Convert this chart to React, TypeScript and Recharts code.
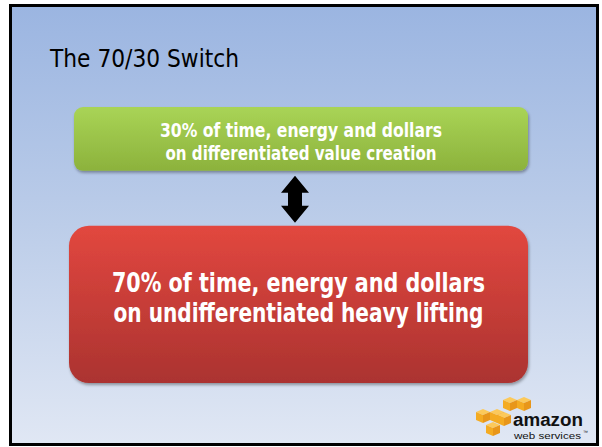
import React from 'react';
import { BarChart, Bar, XAxis, YAxis, LabelList, Customized } from 'recharts';

// ---- data ----
const categories = ['Effort'];
const differentiatedValues = [30]; // % of time, energy and dollars on differentiated value creation
const undifferentiatedValues = [70]; // % on undifferentiated heavy lifting
const titleText = 'The 70/30 Switch';
const valueSuffix = '% of time, energy and dollars';
const differentiatedTail = 'on differentiated value creation';
const undifferentiatedTail = 'on undifferentiated heavy lifting';
const logoWords = ['amazon', 'web services'];

const data = categories.map((c, i) => ({
  name: c,
  heavy: undifferentiatedValues[i],
  value: differentiatedValues[i],
}));

const FONT = '"DejaVu Sans Condensed", "DejaVu Sans", Verdana, sans-serif';
const RED_TOP_INSET = 36;
const RED_LEFT_EXTRA = 5;
const GREEN_BOTTOM_INSET = 19;

const RedShape = (props: any) => {
  const { x, y, width, height } = props;
  const top = y + RED_TOP_INSET;
  const h = height - RED_TOP_INSET;
  return (
    <g>
      <defs>
        <linearGradient id="redGrad" x1="0" y1="0" x2="0" y2="1">
          <stop offset="0%" stopColor="#e2473f" />
          <stop offset="100%" stopColor="#ab3330" />
        </linearGradient>
        <filter id="boxShadow" x="-5%" y="-5%" width="110%" height="120%">
          <feDropShadow dx="1" dy="2" stdDeviation="1.5" floodColor="#000" floodOpacity="0.35" />
        </filter>
      </defs>
      <rect
        x={x - RED_LEFT_EXTRA}
        y={top}
        width={width + RED_LEFT_EXTRA}
        height={h}
        rx={20}
        ry={20}
        fill="url(#redGrad)"
        filter="url(#boxShadow)"
      />
    </g>
  );
};

const GreenShape = (props: any) => {
  const { x, y, width, height } = props;
  const h = height - GREEN_BOTTOM_INSET;
  const cx = x + width / 2 - 6;
  const ty = y + h + 5;
  const by = y + height + RED_TOP_INSET - 3;
  const hw = 14;
  const hh = 17;
  const sw = 7;
  const pts = [
    [cx, ty], [cx + hw, ty + hh], [cx + sw, ty + hh], [cx + sw, by - hh], [cx + hw, by - hh],
    [cx, by], [cx - hw, by - hh], [cx - sw, by - hh], [cx - sw, ty + hh], [cx - hw, ty + hh],
  ].map((p) => p.join(',')).join(' ');
  return (
    <g>
      <defs>
        <linearGradient id="greenGrad" x1="0" y1="0" x2="0" y2="1">
          <stop offset="0%" stopColor="#a9d456" />
          <stop offset="100%" stopColor="#8cb23c" />
        </linearGradient>
      </defs>
      <rect x={x} y={y} width={width} height={h} rx={9} ry={9} fill="url(#greenGrad)" filter="url(#boxShadow)" />
      <polygon points={pts} fill="#000" />
    </g>
  );
};

const GreenLabel = (props: any) => {
  const { viewBox, value } = props;
  const cx = viewBox.x + viewBox.width / 2;
  const top = viewBox.y;
  return (
    <g fontFamily={FONT} fontWeight="bold" fill="#fff" textAnchor="middle">
      <text x={cx} y={top + 30} fontSize={20} textLength={282} lengthAdjust="spacingAndGlyphs">
        {`${value}${valueSuffix}`}
      </text>
      <text x={cx} y={top + 53} fontSize={20} textLength={271} lengthAdjust="spacingAndGlyphs">
        {differentiatedTail}
      </text>
    </g>
  );
};

const RedLabel = (props: any) => {
  const { viewBox, value } = props;
  const cx = viewBox.x - RED_LEFT_EXTRA + (viewBox.width + RED_LEFT_EXTRA) / 2;
  const top = viewBox.y + RED_TOP_INSET;
  return (
    <g fontFamily={FONT} fontWeight="bold" fill="#fff" textAnchor="middle">
      <text x={cx} y={top + 66} fontSize={27} textLength={373} lengthAdjust="spacingAndGlyphs">
        {`${value}${valueSuffix}`}
      </text>
      <text x={cx} y={top + 96} fontSize={27} textLength={370} lengthAdjust="spacingAndGlyphs">
        {undifferentiatedTail}
      </text>
    </g>
  );
};

const Cube = ({ cx, cy }: { cx: number; cy: number }) => (
  <g>
    <polygon points={`${cx - 7},${cy - 3} ${cx},${cy - 6} ${cx + 7},${cy - 3} ${cx},${cy}`} fill="#fcc95a" />
    <polygon points={`${cx - 7},${cy - 3} ${cx},${cy} ${cx},${cy + 8} ${cx - 7},${cy + 5}`} fill="#f4ab22" />
    <polygon points={`${cx},${cy} ${cx + 7},${cy - 3} ${cx + 7},${cy + 5} ${cx},${cy + 8}`} fill="#e8961a" />
  </g>
);

const Decor = () => (
  <g>
    <text x={50} y={67} fontFamily={FONT} fontSize={25} fill="#000" textLength={189} lengthAdjust="spacingAndGlyphs">
      {titleText}
    </text>
    <g>
      <Cube cx={510} cy={403} />
      <Cube cx={524} cy={403} />
      <Cube cx={483} cy={415} />
      <Cube cx={497} cy={415} />
      <Cube cx={504} cy={418} />
      <Cube cx={493} cy={428} />
      <text x={513} y={426} fontFamily="'Liberation Sans', Arial, sans-serif" fontWeight="bold" fontSize={18} fill="#111" textLength={70} lengthAdjust="spacingAndGlyphs">
        {logoWords[0]}
      </text>
      <text x={514} y={439} fontFamily="'Liberation Sans', Arial, sans-serif" fontSize={9.5} fill="#111" textLength={67} lengthAdjust="spacingAndGlyphs">
        {logoWords[1]}
      </text>
      <text x={583} y={434} fontFamily="'Liberation Sans', Arial, sans-serif" fontSize={5} fill="#111">™</text>
    </g>
  </g>
);

export default function App() {
  return (
    <div style={{ position: 'absolute', left: 0, top: 0, width: 602, height: 447, background: '#ffffff' }}>
      <div
        style={{
          position: 'absolute',
          left: 9,
          top: 4,
          width: 590,
          height: 442,
          boxSizing: 'border-box',
          border: '3px solid #000',
          background: 'linear-gradient(to bottom, #9bb5e1 0%, #bccde9 50%, #e0e7f4 100%)',
        }}
      />
      <div style={{ position: 'absolute', left: 0, top: 0 }}>
        <BarChart
          width={602}
          height={447}
          data={data}
          margin={{ top: 107, right: 74, bottom: 64, left: 74 }}
          barCategoryGap={0}
          barGap={0}
        >
          <XAxis dataKey="name" hide />
          <YAxis type="number" domain={[0, 100]} hide />
          <Bar dataKey="heavy" stackId="a" shape={RedShape} isAnimationActive={false}>
            <LabelList dataKey="heavy" content={RedLabel} />
          </Bar>
          <Bar dataKey="value" stackId="a" shape={GreenShape} isAnimationActive={false}>
            <LabelList dataKey="value" content={GreenLabel} />
          </Bar>
          <Customized component={Decor} />
        </BarChart>
      </div>
    </div>
  );
}
